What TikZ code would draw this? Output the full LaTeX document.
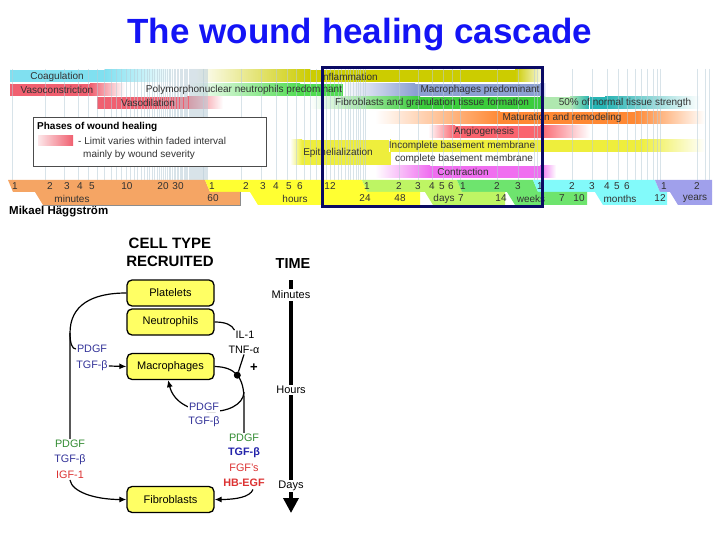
\documentclass[tikz,border=0pt]{standalone}
\usepackage{fontspec}
\setmainfont{Liberation Sans}
\usepackage{graphicx}
\usetikzlibrary{arrows.meta}
\definecolor{titleblue}{RGB}{20,20,245}
\definecolor{navyc}{RGB}{10,10,100}
\definecolor{gridc}{RGB}{185,205,215}
\definecolor{coagc}{RGB}{128,224,240}
\definecolor{inflc}{RGB}{204,204,0}
\definecolor{vasoc}{RGB}{240,96,112}
\definecolor{pmnc}{RGB}{80,220,80}
\definecolor{macc}{RGB}{140,160,210}
\definecolor{fibc}{RGB}{60,205,60}
\definecolor{lgc}{RGB}{175,232,175}
\definecolor{tealc}{RGB}{40,180,180}
\definecolor{matc}{RGB}{255,136,51}
\definecolor{angc}{RGB}{250,100,110}
\definecolor{epic}{RGB}{238,238,60}
\definecolor{conc}{RGB}{240,110,240}
\definecolor{minc}{RGB}{245,165,100}
\definecolor{hrc}{RGB}{255,255,50}
\definecolor{dayc}{RGB}{190,245,100}
\definecolor{wkc}{RGB}{110,228,110}
\definecolor{moc}{RGB}{130,250,250}
\definecolor{yrc}{RGB}{160,160,235}
\definecolor{cellc}{RGB}{255,255,100}
\definecolor{pblue}{RGB}{51,51,153}
\definecolor{pgreen}{RGB}{51,140,51}
\definecolor{pred}{RGB}{220,50,50}
\definecolor{bblue}{RGB}{34,34,170}
\definecolor{axtext}{RGB}{50,50,50}
% #1 ytop #2 ybot #3 x1 #4 x2 #5 x3 #6 x4 #7 colour
\newcommand\phbar[7]{%
  \shade[left color=white,right color=#7] (#3,#1) rectangle (#4,#2);
  \fill[#7] (#4,#1) rectangle (#5,#2);
  \shade[left color=#7,right color=white] (#5,#1) rectangle (#6,#2);}
\begin{document}
\begin{tikzpicture}[x=1pt,y=-1pt,
  bartext/.style={inner sep=0pt,font=\fontsize{10}{11}\selectfont,text=axtext},
  axl/.style={inner sep=0pt,font=\fontsize{10}{11}\selectfont,text=axtext},
  cell/.style={draw=black,line width=1.3pt,fill=cellc,rounded corners=5pt,
    minimum width=87pt,minimum height=26pt,inner sep=0pt,font=\fontsize{11}{12}\selectfont},
  hdr/.style={inner sep=0pt,font=\fontsize{15}{17}\selectfont\bfseries},
  lbl/.style={inner sep=1pt,font=\fontsize{10.8}{12}\selectfont},
  tlab/.style={inner sep=1.5pt,fill=white,font=\fontsize{11}{12}\selectfont},
  con/.style={line width=1.2pt},
  arr/.style={line width=1.2pt,-{Latex[length=7pt,width=6pt]}}]
\useasboundingbox (0,0) rectangle (720,540);
\fill[white] (0,0) rectangle (720,540);

% title
\node[anchor=base,inner sep=0pt,text=titleblue,font=\fontsize{35}{40}\selectfont\bfseries] (title) at (360,44) {The wound healing cascade};

% ---------- phase bars ----------
\phbar{70}{82}{9}{10}{105}{175}{coagc}
\phbar{70}{82}{195}{310}{515}{545}{inflc}
\phbar{84}{96}{9}{10}{90}{125}{vasoc}
\phbar{84}{96}{190}{300}{343}{360}{pmnc}
\phbar{84}{96}{343}{415}{540}{546}{macc}
\phbar{97}{109}{96}{97}{187}{223}{vasoc}
\phbar{97}{109}{310}{420}{540}{546}{fibc}
\fill[lgc] (543,97) rectangle (570,109);
\shade[left color=lgc,right color=tealc] (570,97) rectangle (590,109);
\phbar{97}{109}{589}{590}{605}{700}{tealc}
\phbar{112}{124}{375}{500}{635}{705}{matc}
\phbar{126}{138}{428}{455}{540}{590}{angc}
\phbar{140}{165}{290}{302}{390}{391}{epic}
\phbar{140}{152}{389}{390}{640}{705}{epic}
\phbar{166}{178}{375}{430}{540}{556}{conc}

% ---------- grid lines ----------
\begin{scope}[gridc,line width=0.45pt,opacity=0.55]
\foreach \v in {12,207,365,460,537,660,697} \draw (\v,69) -- (\v,180);
\foreach \m in {2,...,59} \draw ({12+195*ln(\m)/ln(60)},69) -- ++(0,111);
\foreach \h in {2,...,23} \draw ({207+158*ln(\h)/ln(24)},69) -- ++(0,111);
\foreach \d in {2,...,6} \draw ({365+95*ln(\d)/ln(7)},69) -- ++(0,111);
\foreach \w in {2,3,4} \draw ({460+53.4*ln(\w)},69) -- ++(0,111);
\foreach \m in {2,...,11} \draw ({537+50.3*ln(\m)},69) -- ++(0,111);
\foreach \v in {705,709} \draw (\v,69) -- (\v,180);
\end{scope}

% ---------- bar texts ----------
\node[bartext] (tcoag) at (57,76.5) {Coagulation};
\node[bartext] (tinfl) at (349,76.5) {Inflammation};
\node[bartext] (tvcon) at (57,90) {Vasoconstriction};
\node[bartext] (tpmn) at (244,90) {Polymorphonuclear neutrophils predominant};
\node[bartext] (tmac) at (480,90) {Macrophages predominant};
\node[bartext] (tvdil) at (148,103) {Vasodilation};
\node[bartext] (tfib) at (432,103) {Fibroblasts and granulation tissue formation};
\node[bartext] (tfifty) at (625,103) {50\% of normal tissue strength};
\node[bartext] (tmat) at (562,118) {Maturation and remodeling};
\node[bartext] (tang) at (484,132) {Angiogenesis};
\node[bartext] (tepi) at (338,153) {Epithelialization};
\node[bartext] (tinc) at (462,146) {Incomplete basement membrane};
\node[bartext] (tcom) at (464,158.5) {complete basement membrane};
\node[bartext] (tcon) at (463,172) {Contraction};

% ---------- legend ----------
\node[draw=black!70,fill=white,line width=0.8pt,minimum width=233pt,minimum height=49pt,inner sep=0pt] (legend) at (149.5,141.5) {};
\node[anchor=west,inner sep=0pt,font=\fontsize{10}{11}\selectfont\bfseries] (legt) at (37,127) {Phases of wound healing};
\shade[left color=vasoc!15,right color=vasoc] (38,136) rectangle (73,146);
\node[anchor=west,bartext] (legl1) at (78,141) {- Limit varies within faded interval};
\node[anchor=west,bartext] (legl2) at (83,154.5) {mainly by wound severity};

% ---------- time axis ----------
\fill[minc] (8,180) -- (205,180) -- (210,192) -- (13,192) -- cycle;
\fill[hrc] (205,180) -- (362,180) -- (367,192) -- (210,192) -- cycle;
\fill[dayc] (362,180) -- (457,180) -- (462,192) -- (367,192) -- cycle;
\fill[wkc] (457,180) -- (533,180) -- (538,192) -- (462,192) -- cycle;
\fill[moc] (533,180) -- (655,180) -- (660,192) -- (538,192) -- cycle;
\fill[yrc] (655,180) -- (712,180) -- (712,192) -- (660,192) -- cycle;
\fill[minc] (35,192) -- (240,192) -- (240,205) -- (43,205) -- cycle;
\fill[hrc] (250,192) -- (420,192) -- (420,205) -- (258,205) -- cycle;
\fill[dayc] (425,192) -- (505,192) -- (505,205) -- (433,205) -- cycle;
\fill[wkc] (507,192) -- (587,192) -- (587,205) -- (515,205) -- cycle;
\fill[moc] (595,192) -- (667,192) -- (667,205) -- (603,205) -- cycle;
\fill[yrc] (670,192) -- (712,192) -- (712,205) -- (678,205) -- cycle;
\draw[black!45,line width=0.5pt] (240,192) -- (240,205) -- (43,205);
\foreach \x/\t [count=\i] in {15/1,50/2,67/3,80/4,92/5,127/10,163/20,178/30,212/1,246/2,263/3,276/4,289/5,300/6,330/12,367/1,399/2,418/3,432/4,442/5,451/6,463/1,497/2,518/3,540/1,572/2,592/3,607/4,617/5,627/6,664/1,697/2}
  \node[axl] (ra\i) at (\x,186.5) {\t};
\foreach \x/\t [count=\i] in {72/minutes,213/60,295/hours,365/24,400/48,444/days,461/7,501/14,531/weeks,562/7,579/10,620/months,660/12,695/years}
  \node[axl] (rb\i) at (\x,198.5) {\t};

% focus box
\node[draw=navyc,line width=3pt,minimum width=220pt,minimum height=139pt,inner sep=0pt] (focus) at (432,137.5) {};

\node[anchor=west,inner sep=0pt,font=\fontsize{11.5}{13}\selectfont\bfseries] (author) at (9,212) {Mikael Häggström};

% ---------- lower diagram ----------
\node[hdr] (ct1) at (170,243) {CELL TYPE};
\node[hdr] (ct2) at (170,261.5) {RECRUITED};
\node[hdr,font=\fontsize{14.5}{16}\selectfont\bfseries] (time) at (293,264) {TIME};

\coordinate (tt) at (291,280);
\coordinate (tb) at (291,513);
\draw[line width=3.5pt,-{Triangle[length=15pt,width=15pt]}] (tt) -- (tb);
\node[tlab] (tmin) at (291,295) {Minutes};
\node[tlab] (thr) at (291,390) {Hours};
\node[tlab] (tday) at (291,486) {Days};

\node[cell] (plt) at (170.5,293) {Platelets};
\node[cell] (neu) at (170.5,322) {Neutrophils};
\node[cell] (mac) at (170.5,366.5) {Macrophages};
\node[cell] (fib) at (170.5,499.5) {Fibroblasts};

% left labels
\node[lbl,text=pblue] (upd) at (92,349) {PDGF};
\node[lbl,text=pblue] (utg) at (92,366) {TGF-β};
\node[lbl,text=pgreen] (lpd) at (70,444) {PDGF};
\node[lbl,text=pblue] (ltg) at (70,459.5) {TGF-β};
\node[lbl,text=pred] (lig) at (70,475) {IGF-1};

\coordinate (lj) at (70,333);
\draw[con] (plt.west) .. controls (92,293) and (70,305) .. (lj) -- (lpd.north);
\draw[con] (lj) .. controls (70,343) and (72,349) .. (upd.west);
\draw[arr] (utg.east) -- (mac.west);
\draw[arr] (lig.south) .. controls (72,492) and (95,499.5) .. (fib.west);

% right side
\node[lbl] (il) at (245,335) {IL-1};
\node[lbl] (tnf) at (244,349.5) {TNF-α};
\node[inner sep=0pt,font=\fontsize{13}{14}\selectfont\bfseries] (plus) at (254,368) {+};
\node[lbl,text=pgreen] (rpd) at (244,438) {PDGF};
\node[lbl,text=bblue,font=\fontsize{10.8}{12}\selectfont\bfseries] (rtg) at (244,453) {TGF-β};
\node[lbl,text=pred] (rfg) at (244,468) {FGF's};
\node[lbl,text=pred,font=\fontsize{10.8}{12}\selectfont\bfseries] (rhb) at (244,482.5) {HB-EGF};

\draw[con] (neu.east) .. controls (226,322) and (232,325) .. (il.north west);
\draw[con] (mac.east) .. controls (236,367) and (244,378) .. (244,400) -- (rpd.north);
\node[circle,fill=black,inner sep=0pt,minimum size=7pt] (dot) at (237.3,375.2) {};
\draw[con] (tnf.south) -- (dot);

\coordinate (ls) at (244,392);
\draw[arr] (ls) .. controls (243,418) and (178,420) .. (mac.260);
\node[lbl,text=pblue,fill=white] (mpd) at (204,407) {PDGF};
\node[lbl,text=pblue] (mtg) at (204,422) {TGF-β};

\coordinate (rs) at (253,489.5);
\draw[arr] (rs) .. controls (250,497) and (236,499.5) .. (fib.east);
\end{tikzpicture}
\end{document}
